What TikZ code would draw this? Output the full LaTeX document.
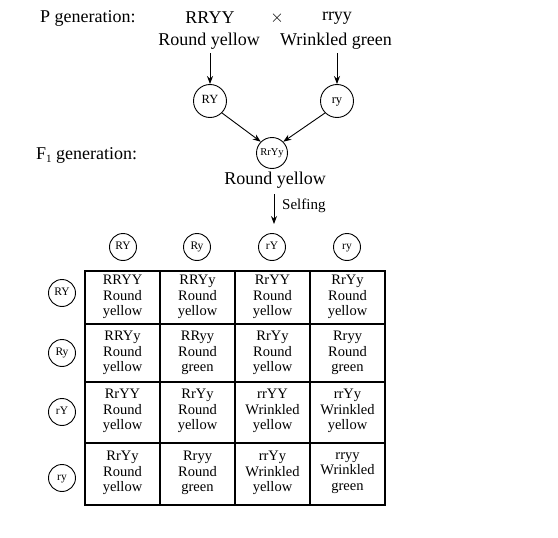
\documentclass[tikz,border=0pt]{standalone}
\usepackage{fontspec}
\setmainfont{Liberation Serif}
\usetikzlibrary{arrows.meta}
\begin{document}
\begin{tikzpicture}[x=1pt,y=-1pt,
  lab/.style={font=\fontsize{18}{20}\selectfont, inner sep=0pt},
  gam/.style={circle, draw, line width=0.9pt, minimum size=33pt, inner sep=0pt, font=\fontsize{12.5}{13}\selectfont, text height=1.4ex, text depth=0.2ex},
  hgam/.style={circle, draw, line width=0.9pt, minimum size=27pt, inner sep=0pt, font=\fontsize{11.5}{12}\selectfont, text height=1.4ex, text depth=0.2ex},
  cell/.style={align=center, font=\fontsize{14.5}{15.5}\selectfont, inner sep=0pt},
  grid/.style={line width=1.1pt},
  arr/.style={-{Stealth[length=8pt,width=6pt]}, line width=0.9pt}]
\useasboundingbox[fill=white] (0,0) rectangle (558,538);

% P generation
\node[lab, anchor=west] (pgen) at (40,18) {P generation:};
\node[lab] (p1) at (210,18) {RRYY};
\node[lab] (cross) at (277,18) {$\times$};
\node[lab] (p2) at (337,18) {rryy};
\node[lab] (p1t) at (209,41) {Round yellow};
\node[lab] (p2t) at (336,41) {Wrinkled green};

\node[gam] (g1) at (210,101) {RY};
\node[gam] (g2) at (337,101) {ry};
\path (p1t.south -| g1) ++(0,4) coordinate (a1);
\path (p2t.south -| g2) ++(0,4) coordinate (a2);
\draw[arr] (a1) -- (g1.north);
\draw[arr] (a2) -- (g2.north);

% F1 generation
\node[lab, anchor=west] (fgen) at (36,155) {F{\fontsize{11}{12}\selectfont\raisebox{-3pt}{1}} generation:};
\node[gam, minimum size=31pt, font=\fontsize{10.5}{11}\selectfont] (f1) at (272,153) {RrYy};
\draw[arr] (g1.-45) -- (f1.135);
\draw[arr] (g2.-135) -- (f1.45);
\node[lab] (f1t) at (275,180) {Round yellow};
\coordinate (s1) at (274,194);
\coordinate (s2) at (274,224);
\draw[arr] (s1) -- (s2);
\node[font=\fontsize{15}{16}\selectfont, inner sep=0pt, anchor=west] (self) at (282,206) {Selfing};

% header gametes
\node[hgam] (c1) at (123,247) {RY};
\node[hgam] (c2) at (197,247) {Ry};
\node[hgam] (c3) at (272,247) {rY};
\node[hgam] (c4) at (347,247) {ry};

\node[hgam] (r1) at (62,293) {RY};
\node[hgam] (r2) at (62,353) {Ry};
\node[hgam] (r3) at (62,412) {rY};
\node[hgam] (r4) at (62,478) {ry};

% grid
\draw[grid] (85,271) rectangle (385,505);
\foreach \x in {160,235,310} \draw[grid] (\x,271) -- (\x,505);
\foreach \y in {324,382,443} \draw[grid] (85,\y) -- (385,\y);

% cells
\node[cell] (a11) at (122.5,297) {RRYY\\Round\\yellow};
\node[cell] (a12) at (197.5,297) {RRYy\\Round\\yellow};
\node[cell] (a13) at (272.5,297) {RrYY\\Round\\yellow};
\node[cell] (a14) at (347.5,297) {RrYy\\Round\\yellow};

\node[cell] (a21) at (122.5,353) {RRYy\\Round\\yellow};
\node[cell] (a22) at (197.5,353) {RRyy\\Round\\green};
\node[cell] (a23) at (272.5,353) {RrYy\\Round\\yellow};
\node[cell] (a24) at (347.5,353) {Rryy\\Round\\green};

\node[cell] (a31) at (122.5,411) {RrYY\\Round\\yellow};
\node[cell] (a32) at (197.5,411) {RrYy\\Round\\yellow};
\node[cell] (a33) at (272.5,411) {rrYY\\Wrinkled\\yellow};
\node[cell] (a34) at (347.5,411) {rrYy\\Wrinkled\\yellow};

\node[cell] (a41) at (122.5,473) {RrYy\\Round\\yellow};
\node[cell] (a42) at (197.5,473) {Rryy\\Round\\green};
\node[cell] (a43) at (272.5,473) {rrYy\\Wrinkled\\yellow};
\node[cell] (a44) at (347.5,473) {rryy\\Wrinkled\\green};
\end{tikzpicture}
\end{document}
